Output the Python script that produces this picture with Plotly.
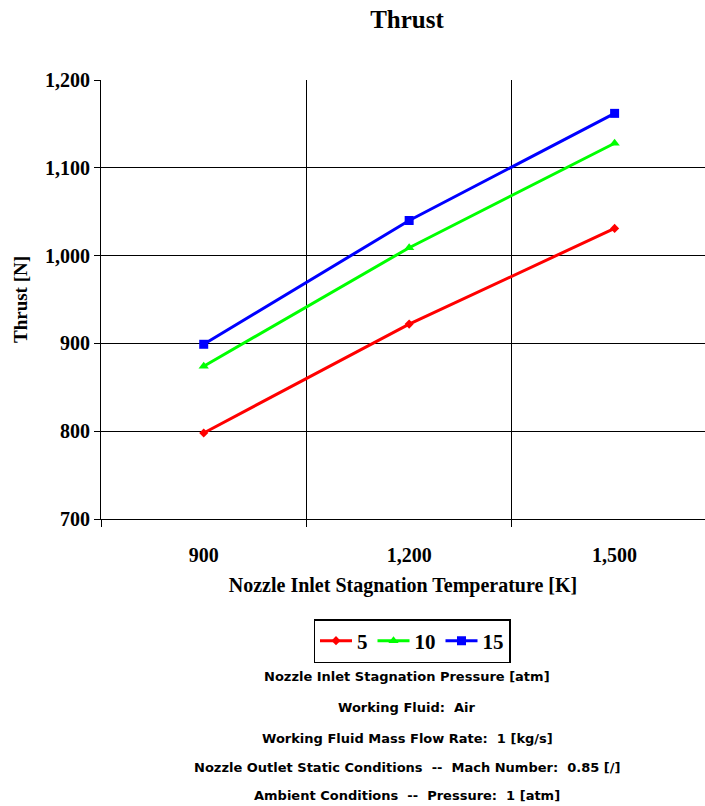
import plotly.graph_objects as go

temps = ["900", "1,200", "1,500"]
series_names = ["5", "10", "15"]
thrust_5 = [798, 922, 1031]
thrust_10 = [874, 1009, 1128]
thrust_15 = [899, 1040, 1162]
y_ticks = [700, 800, 900, 1000, 1100, 1200]
y_tick_labels = ["700", "800", "900", "1,000", "1,100", "1,200"]
notes = [
    "Nozzle Inlet Stagnation Pressure [atm]",
    "Working Fluid:  Air",
    "Working Fluid Mass Flow Rate:  1 [kg/s]",
    "Nozzle Outlet Static Conditions  --  Mach Number:  0.85 [/]",
    "Ambient Conditions  --  Pressure:  1 [atm]",
]

colors = ["#ff0000", "#00ff00", "#0000ff"]
symbols = ["diamond", "triangle-up", "square"]
msizes = [7, 9, 9]
xidx = list(range(len(temps)))

fig = go.Figure()
for name, vals, c, s, ms in zip(series_names, [thrust_5, thrust_10, thrust_15], colors, symbols, msizes):
    fig.add_trace(go.Scatter(
        x=xidx, y=vals, name=f"<b>{name}</b>", mode="lines+markers",
        line=dict(color=c, width=3),
        marker=dict(symbol=s, size=ms, color=c),
    ))

serif = "Liberation Serif"
W, H = 705, 806
L, R, T, B = 101, 0, 80, 287
ph = H - T - B

fig.update_layout(
    width=W, height=H,
    margin=dict(l=L, r=R, t=T, b=B),
    paper_bgcolor="white", plot_bgcolor="white",
    title=dict(text="<b>Thrust</b>", x=407 / W, xanchor="center", y=1 - 19 / H, yanchor="middle",
               font=dict(family=serif, size=25, color="black")),
    showlegend=True,
    legend=dict(orientation="h", x=(412 - L) / (W - L), xanchor="center", y=-(619 - 519) / ph, yanchor="top",
                bordercolor="black", borderwidth=1.5, bgcolor="white",
                font=dict(family=serif, size=21, color="black"), itemwidth=32,
                tracegroupgap=0),
    font=dict(family=serif, color="black"),
)

fig.update_xaxes(
    range=[-0.5, 2.44], tickvals=xidx, ticktext=[f"<b>{t}</b>" for t in temps],
    ticks="", showgrid=False, showline=True, linecolor="black", linewidth=1,
    tickfont=dict(family=serif, size=20, color="black"), ticklabelstandoff=18,
    minor=dict(tick0=0.5, dtick=1, showgrid=True, gridcolor="black", gridwidth=1,
               ticks="outside", ticklen=7, tickcolor="black"),
    title=dict(text="<b>Nozzle Inlet Stagnation Temperature [K]</b>", standoff=12,
               font=dict(family=serif, size=20, color="black")),
    zeroline=False, mirror=False,
)
fig.update_yaxes(
    range=[700, 1200], tickvals=y_ticks, ticktext=[f"<b>{t}</b>" for t in y_tick_labels],
    ticks="outside", ticklen=6, tickcolor="black",
    showgrid=True, gridcolor="black", gridwidth=1,
    showline=True, linecolor="black", linewidth=1,
    tickfont=dict(family=serif, size=20, color="black"),
    title=dict(text="<b>Thrust [N]</b>", standoff=12, font=dict(family=serif, size=19, color="black")),
    zeroline=False,
)

note_y = [676, 707, 738, 767, 795]
for txt, yy in zip(notes, note_y):
    fig.add_annotation(text=f"<b>{txt}</b>", xref="paper", yref="paper",
                       x=(407 - L) / (W - L), y=-(yy - 519) / ph, xanchor="center", yanchor="middle",
                       showarrow=False, font=dict(family="DejaVu Sans", size=13, color="black"))

fig.write_html("out.html", config={"displayModeBar": False},
               post_script="document.body.style.margin='0px';document.body.style.padding='0px';")
